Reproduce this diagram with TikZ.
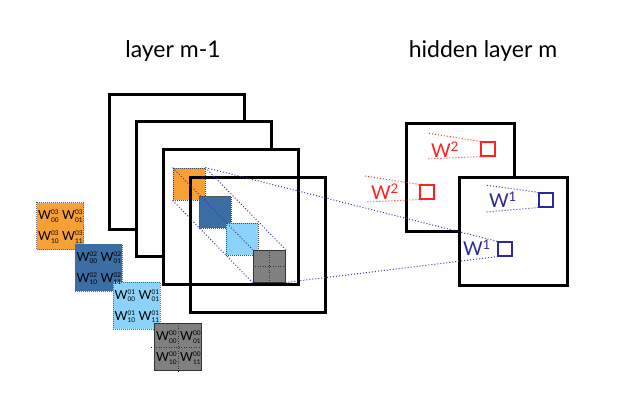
\documentclass[tikz,border=0pt]{standalone}
\usepackage{fontspec}
\setmainfont{Lato}
\definecolor{worange}{HTML}{F7A035}
\definecolor{wdblue}{HTML}{3A6EA5}
\definecolor{wlblue}{HTML}{8CD3FB}
\definecolor{wgray}{HTML}{808080}
\definecolor{navy}{HTML}{2A2A9A}
\definecolor{dotblue}{HTML}{3A3AB0}
\definecolor{wred}{HTML}{FF2020}
\newcommand{\wt}[2]{{W\rlap{\raisebox{5pt}{\fontsize{6.5}{6.5}\selectfont #1}}\raisebox{-2.5pt}{\fontsize{6.5}{6.5}\selectfont #2}}}
\begin{document}
\begin{tikzpicture}[x=1pt,y=-1pt,
  frame/.style={draw=black,line width=3pt,fill=white,inner sep=0pt,anchor=north west},
  hframe/.style={draw=black,line width=3pt,fill=white,inner sep=0pt,minimum size=108pt,anchor=north west},
  dsq/.style={draw=black!70,dash pattern=on 1pt off 1pt,line width=0.8pt,inner sep=0pt,minimum size=32pt},
  wbox/.style={draw=black!60,dash pattern=on 1pt off 1pt,line width=0.8pt,inner sep=0pt,minimum size=47pt},
  bdot/.style={draw=dotblue,dash pattern=on 1pt off 2pt,line width=1pt},
  rdot/.style={draw=wred,dash pattern=on 1pt off 2pt,line width=0.9pt},
  rsq/.style={draw=wred,line width=1.2pt,inner sep=0pt,minimum size=14pt},
  bsq/.style={draw=navy,line width=1.2pt,inner sep=0pt,minimum size=14pt},
  wlab/.style={font=\fontsize{19}{19}\selectfont,inner sep=0pt},
  title/.style={font=\fontsize{23}{23}\selectfont,inner sep=0pt},
  went/.style={font=\fontsize{12.5}{12.5}\selectfont,text=black,inner sep=0pt,anchor=west}]
\useasboundingbox (0,0) rectangle (642,406);

% titles
\node[title] (t1) at (173,51) {layer m-1};
\node[title] (t2) at (483,51) {hidden layer m};

% layer m-1 frames
\node[frame,minimum size=135pt] (s1) at (108,93) {};
\node[frame,minimum size=135pt] (s2) at (135,120) {};
\node[frame,minimum size=135pt] (s3) at (162,148) {};

% diagonal small squares
\node[dsq,fill=worange] (o) at (189,184) {};
\node[dsq,fill=wdblue] (db) at (215,212) {};
\node[dsq,fill=wlblue] (lb) at (242,239) {};
\node[draw=black!80,line width=1pt,fill=wgray,inner sep=0pt,minimum size=32pt] (gr) at (269,266) {};
\draw[black!80,dash pattern=on 1pt off 1.5pt,line width=0.9pt] (gr.north) -- (gr.south);
\draw[black!80,dash pattern=on 1pt off 1.5pt,line width=0.9pt] (gr.west) -- (gr.east);

% front frame (no fill)
\node[frame,fill=none,minimum size=135pt] (s4) at (189,176) {};

% hidden layer frames
\node[hframe] (fa) at (405,122) {};
\node[hframe] (fb) at (458,176) {};

% small squares in hidden layer
\node[rsq] (r1) at (488,149) {};
\node[rsq] (r2) at (427,192) {};
\node[bsq] (b1) at (546,200) {};
\node[bsq] (b2) at (505,249) {};

% dotted lines among diagonal squares
\draw[bdot] (o.north east) -- (gr.north east);
\draw[bdot] (o.south west) -- (gr.south west);
\draw[bdot] (o.north west) -- (gr.north west);
% long lines
\draw[bdot] (o.north east) -- (b2.north west);
\draw[bdot] (gr.south east) -- (b2.south west);

% red receptive lines
\coordinate (r1a) at (427,133);
\coordinate (r1b) at (427,159);
\coordinate (r2a) at (365,176);
\coordinate (r2b) at (365,202);
\draw[rdot] (r1.north west) -- (r1a);
\draw[rdot] (r1.south west) -- (r1b);
\draw[rdot] (r2.north west) -- (r2a);
\draw[rdot] (r2.south west) -- (r2b);
% blue receptive lines
\coordinate (b1a) at (485,185);
\coordinate (b1b) at (485,212);
\draw[bdot] (b1.north west) -- (b1a);
\draw[bdot] (b1.south west) -- (b1b);

% labels
\node[wlab,text=wred] (l1) at (445,150) {W\textsuperscript{2}};
\node[wlab,text=wred] (l2) at (385,192) {W\textsuperscript{2}};
\node[wlab,text=navy] (l3) at (503,200) {W\textsuperscript{1}};
\node[wlab,text=navy] (l4) at (477,248) {W\textsuperscript{1}};

% weight boxes
\node[wbox,fill=worange] (wo) at (60,226) {};
\node[wbox,fill=wdblue] (wd) at (98.5,267.5) {};
\node[wbox,fill=wlblue] (wl) at (136.5,305.5) {};
\node[draw=black!80,line width=1pt,fill=wgray,inner sep=0pt,minimum size=47pt] (wg) at (178,347) {};
\draw[black!80,dash pattern=on 1pt off 1.5pt,line width=0.9pt] (wg.north) -- (wg.south);
\draw[black!80,dash pattern=on 1pt off 1.5pt,line width=0.9pt] ([xshift=-3pt]wg.west) -- (wg.east);

\foreach \b/\k in {wo/03,wd/02,wl/01,wg/00}{
  \node[went] at ([xshift=-22pt,yshift=10pt]\b.center) {\wt{\k}{00}};
  \node[went] at ([xshift=2pt,yshift=10pt]\b.center) {\wt{\k}{01}};
  \node[went] at ([xshift=-22pt,yshift=-11pt]\b.center) {\wt{\k}{10}};
  \node[went] at ([xshift=2pt,yshift=-11pt]\b.center) {\wt{\k}{11}};
}
\end{tikzpicture}
\end{document}
